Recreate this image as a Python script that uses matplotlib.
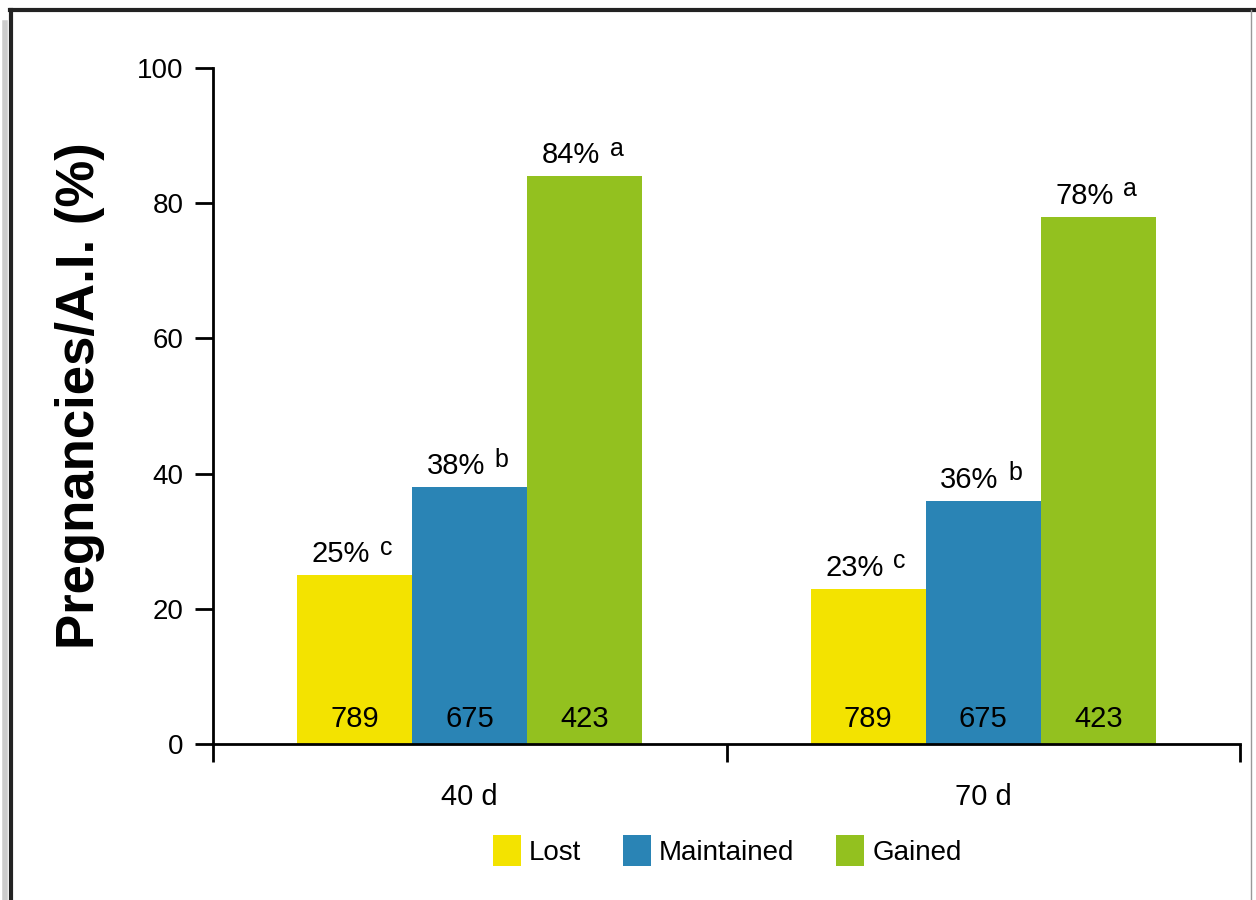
import matplotlib.pyplot as plt
from matplotlib.lines import Line2D

groups = ['40 d', '70 d']
series = ['Lost', 'Maintained', 'Gained']
values = [[25, 23], [38, 36], [84, 78]]
letters = [['c', 'c'], ['b', 'b'], ['a', 'a']]
counts = [789, 675, 423]
colors = ['#f3e300', '#2a84b5', '#93c11f']

plt.rcParams['font.family'] = ['Liberation Sans', 'DejaVu Sans']

fig = plt.figure(figsize=(12.56, 9), dpi=100)
ax = fig.add_axes([0.1696, 0.1733, 0.8177, 0.7511])

width = 0.224
centers = [0.5, 1.5]
for i, name in enumerate(series):
    xs = [c + (i - 1) * width for c in centers]
    ax.bar(xs, values[i], width=width, color=colors[i], label=name)
    for j, x in enumerate(xs):
        v = values[i][j]
        ax.annotate(f'{v}%', (x, v), xytext=(-10, 5), textcoords='offset points',
                    ha='center', va='bottom', fontsize=21)
        ax.annotate(letters[i][j], (x, v), xytext=(18, 11), textcoords='offset points',
                    ha='left', va='bottom', fontsize=18)
        ax.annotate(str(counts[i]), (x, 0), xytext=(0, 8), textcoords='offset points',
                    ha='center', va='bottom', fontsize=21)

ax.set_xlim(0, 2)
ax.set_ylim(0, 100)
ax.set_yticks([0, 20, 40, 60, 80, 100])
ax.set_xticks([0, 1, 2])
ax.set_xticklabels([])
ax.set_xticks(centers, minor=True)
ax.set_xticklabels(groups, minor=True)
ax.tick_params(axis='x', which='major', direction='out', length=13, width=2)
ax.tick_params(axis='x', which='minor', length=0, pad=28, labelsize=21)
ax.tick_params(axis='y', direction='out', length=13, width=2, labelsize=20, pad=8)
for s in ['top', 'right']:
    ax.spines[s].set_visible(False)
for s in ['left', 'bottom']:
    ax.spines[s].set_linewidth(2)
ax.set_ylabel('Pregnancies/A.I. (%)', fontsize=38, fontweight='bold')
ax.yaxis.set_label_coords(-0.1295, 0.516)
ax.yaxis.label.set_va('center')

fig.legend(loc='center', bbox_to_anchor=(0.579, 0.055), ncol=3, frameon=False,
           fontsize=20, handlelength=1.0, handleheight=1.3, handletextpad=0.3,
           columnspacing=1.5)

# page frame
fig.add_artist(Line2D([0.008, 1.0], [0.989, 0.989], color='#222222', lw=3))
fig.add_artist(Line2D([0.009, 0.009], [0.0, 0.989], color='#222222', lw=3))
fig.add_artist(Line2D([0.004, 0.004], [0.0, 0.975], color='#cccccc', lw=4))
fig.add_artist(Line2D([0.996, 0.996], [0.0, 0.989], color='#999999', lw=1))

fig.savefig('out.png')
